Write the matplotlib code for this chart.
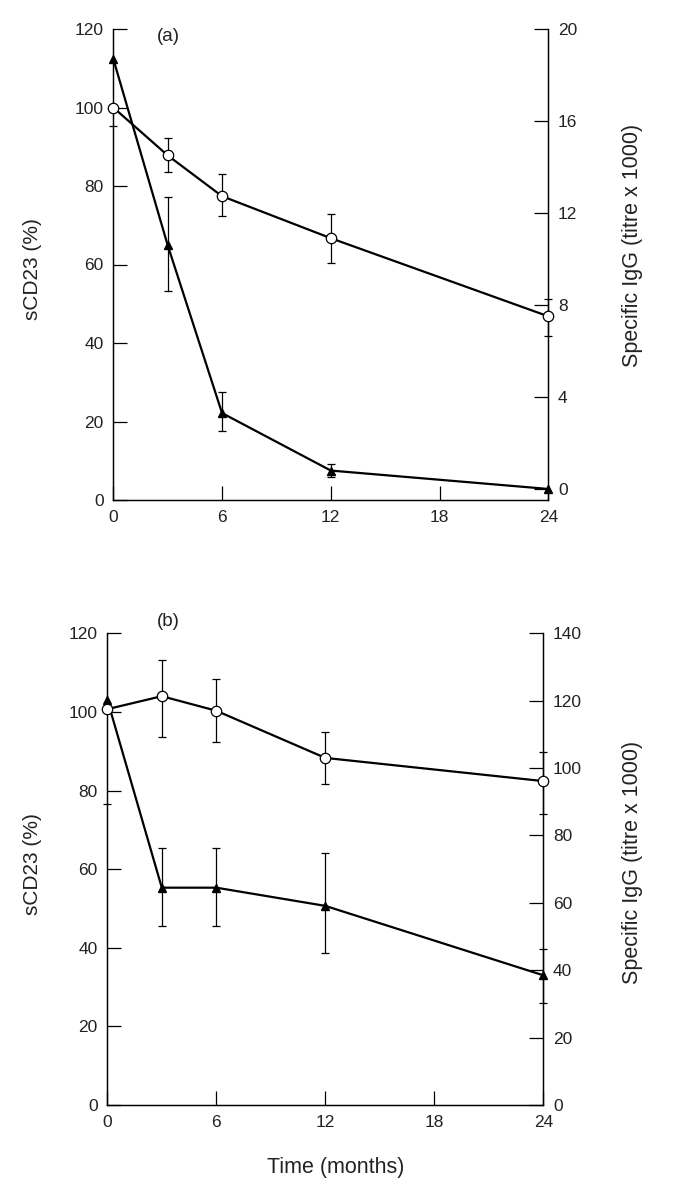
import numpy as np
import matplotlib
matplotlib.use("Agg")
from matplotlib import pyplot as plt

plt.rcParams['font.family'] = ['Liberation Sans', 'DejaVu Sans']
plt.rcParams['font.size'] = 12.5

months = [0, 3, 6, 12, 24]
nan = np.nan

# (a) sCD23 (%) - open circles, left axis
a_cd23 = [100, 87.8, 77.4, 66.7, 46.8]
a_cd23_lo = [nan, 4.2, 5.0, 6.3, 5.0]
a_cd23_hi = [nan, 4.4, 5.6, 6.2, 4.4]
# (a) specific IgG (titre x 1000) - triangles, right axis
a_igg = [18.7, 10.6, 3.3, 0.8, 0.0]
a_igg_lo = [2.9, 2.0, 0.8, 0.27, nan]
a_igg_hi = [nan, 2.1, 0.9, 0.28, nan]

# (b)
b_cd23 = [100.7, 104.0, 100.3, 88.3, 82.4]
b_cd23_lo = [nan, 10.4, 8.0, 6.6, 8.4]
b_cd23_hi = [nan, 9.2, 8.0, 6.7, 7.5]
b_igg = [120.3, 64.5, 64.5, 59.1, 38.5]
b_igg_lo = [31.0, 11.3, 11.5, 14.0, 8.3]
b_igg_hi = [nan, 11.9, 11.7, 15.6, 7.8]

panels = [
    dict(rect=[113.3 / 677, 698 / 1198, 435 / 677, 471 / 1198], tag="(a)",
         cd23=a_cd23, cd23_err=[a_cd23_lo, a_cd23_hi],
         igg=a_igg, igg_err=[a_igg_lo, a_igg_hi],
         r_lim=(-0.48, 20), r_ticks=[0, 4, 8, 12, 16, 20],
         llab=(-0.163, 0.49), rlab=(1.17, 0.54), tagpos=(0.126, 0.984)),
    dict(rect=[107.3 / 677, 93 / 1198, 436 / 677, 471.7 / 1198], tag="(b)",
         cd23=b_cd23, cd23_err=[b_cd23_lo, b_cd23_hi],
         igg=b_igg, igg_err=[b_igg_lo, b_igg_hi],
         r_lim=(0, 140), r_ticks=[0, 20, 40, 60, 80, 100, 120, 140],
         llab=(-0.149, 0.51), rlab=(1.181, 0.515), tagpos=(0.14, 1.025)),
]

fig = plt.figure(figsize=(6.77, 11.98), dpi=100)

for p in panels:
    ax = fig.add_axes(p["rect"])
    ax2 = ax.twinx()
    ax.set_xlim(0, 24)
    ax.set_ylim(0, 120)
    ax2.set_ylim(*p["r_lim"])
    ax.set_xticks([0, 6, 12, 18, 24])
    ax.set_yticks(range(0, 121, 20))
    ax2.set_yticks(p["r_ticks"])
    for a in (ax, ax2):
        a.spines["top"].set_visible(False)
        for s in a.spines.values():
            s.set_linewidth(0.9)
        a.tick_params(direction="in", length=10, width=0.9, pad=7, labelsize=12.5,
                      labelcolor="#222222")
    ax.set_zorder(2)
    ax.patch.set_visible(False)

    ax.errorbar(months, p["cd23"], yerr=p["cd23_err"], fmt="none", ecolor="black",
                elinewidth=0.9, capsize=3, capthick=0.9, clip_on=False, zorder=3)
    ax.plot(months, p["cd23"], "-o", color="black", lw=1.6, ms=7.5, mfc="white",
            mec="black", mew=0.9, clip_on=False, zorder=4)
    ax2.errorbar(months, p["igg"], yerr=p["igg_err"], fmt="none", ecolor="black",
                 elinewidth=0.9, capsize=3, capthick=0.9, clip_on=False, zorder=3)
    ax2.plot(months, p["igg"], "-^", color="black", lw=1.6, ms=6, clip_on=False, zorder=4)

    ax.set_ylabel("sCD23 (%)", fontsize=15, color="#222222")
    ax.yaxis.set_label_coords(*p["llab"])
    ax2.set_ylabel("Specific IgG (titre x 1000)", fontsize=15.5, color="#222222")
    ax2.yaxis.set_label_coords(*p["rlab"])
    ax.text(p["tagpos"][0], p["tagpos"][1], p["tag"], transform=ax.transAxes,
            fontsize=13.5, ha="center", va="center", color="#222222")

fig.text(336 / 677, 1 - 1168 / 1198, "Time (months)", fontsize=15.5,
         ha="center", va="center", color="#222222")

fig.savefig("out.png", dpi=100)
